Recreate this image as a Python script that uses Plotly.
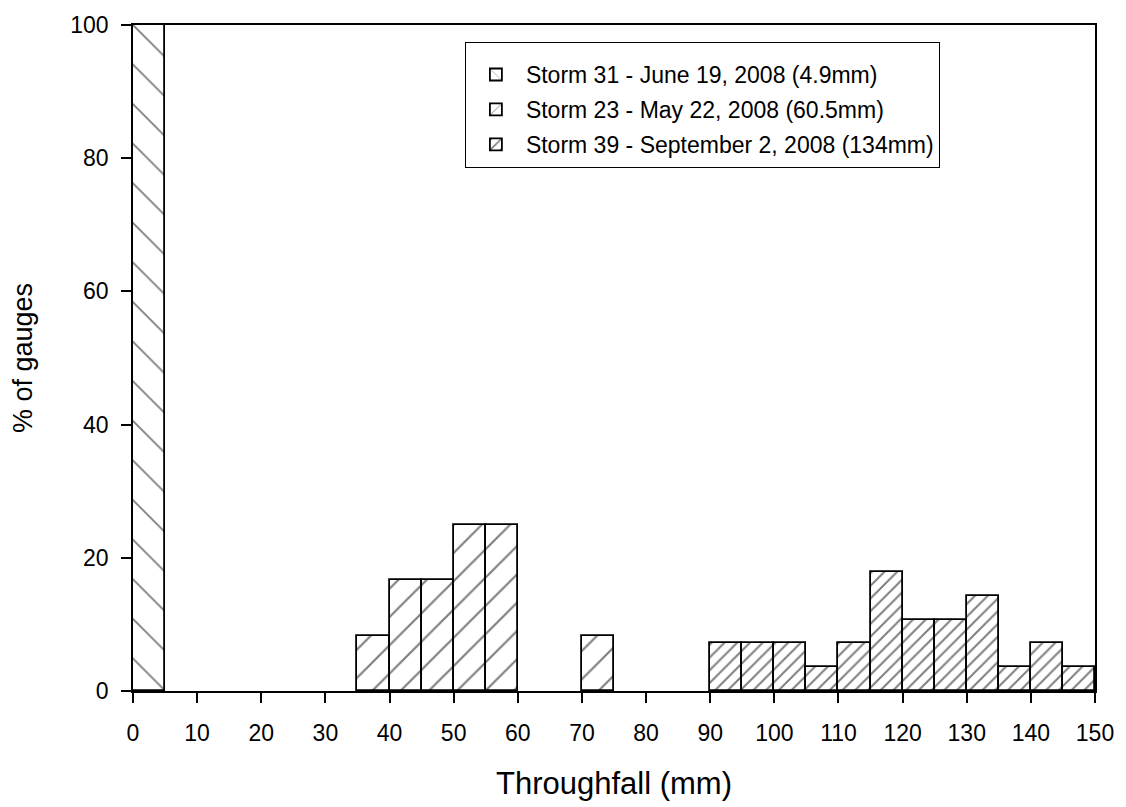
import plotly.graph_objects as go

bin_centers_31 = [2.5]
pct_31 = [100.0]

bin_centers_23 = [37.5, 42.5, 47.5, 52.5, 57.5, 72.5]
pct_23 = [8.33, 16.67, 16.67, 25.0, 25.0, 8.33]

bin_centers_39 = [92.5, 97.5, 102.5, 107.5, 112.5, 117.5, 122.5, 127.5, 132.5, 137.5, 142.5, 147.5]
pct_39 = [7.14, 7.14, 7.14, 3.57, 7.14, 17.86, 10.71, 10.71, 14.29, 3.57, 7.14, 3.57]

names = ["Storm 31 - June 19, 2008 (4.9mm)",
         "Storm 23 - May 22, 2008 (60.5mm)",
         "Storm 39 - September 2, 2008 (134mm)"]

fig = go.Figure()
series = [(bin_centers_31, pct_31, "\\", 28, 0.065),
          (bin_centers_23, pct_23, "/", 20, 0.11),
          (bin_centers_39, pct_39, "/", 9, 0.22)]
for i, ((x, y, shape, size, sol), nm) in enumerate(zip(series, names)):
    fig.add_trace(go.Bar(
        x=x, y=y, width=5, name=nm, legendgroup="g%d" % i,
        marker=dict(color="white", line=dict(color="black", width=1.8),
                    pattern=dict(shape=shape, size=size, solidity=sol,
                                 fgcolor="black", bgcolor="white", fillmode="overlay")),
    ))

fig.update_layout(
    width=1126, height=807,
    margin=dict(l=133, r=26, t=20, b=116),
    plot_bgcolor="white", paper_bgcolor="white",
    barmode="overlay", bargap=0,
    font=dict(family="Liberation Sans, Arial", size=23, color="black"),
    showlegend=True,
    legend=dict(x=0.345, y=0.975, xanchor="left", yanchor="top",
                bordercolor="black", borderwidth=1, bgcolor="white",
                font=dict(size=23), tracegroupgap=2,
                itemwidth=50,
                title=dict(text=" ", font=dict(size=8))),
)
fig.update_xaxes(range=[0, 150], tickvals=list(range(0, 151, 10)),
                 ticks="outside", ticklen=10, tickwidth=1.8, tickcolor="black",
                 ticklabelstandoff=10,
                 showline=True, linecolor="black", linewidth=1.8, mirror=True,
                 showgrid=False, zeroline=False,
                 title=dict(text="Throughfall (mm)", font=dict(size=31), standoff=28))
fig.update_yaxes(range=[0, 100], tickvals=list(range(0, 101, 20)),
                 ticks="outside", ticklen=10, tickwidth=1.8, tickcolor="black",
                 ticklabelstandoff=8,
                 showline=True, linecolor="black", linewidth=1.8, mirror=True,
                 showgrid=False, zeroline=False,
                 title=dict(text="% of gauges", font=dict(size=27), standoff=30))

fig.write_html("out.html")
